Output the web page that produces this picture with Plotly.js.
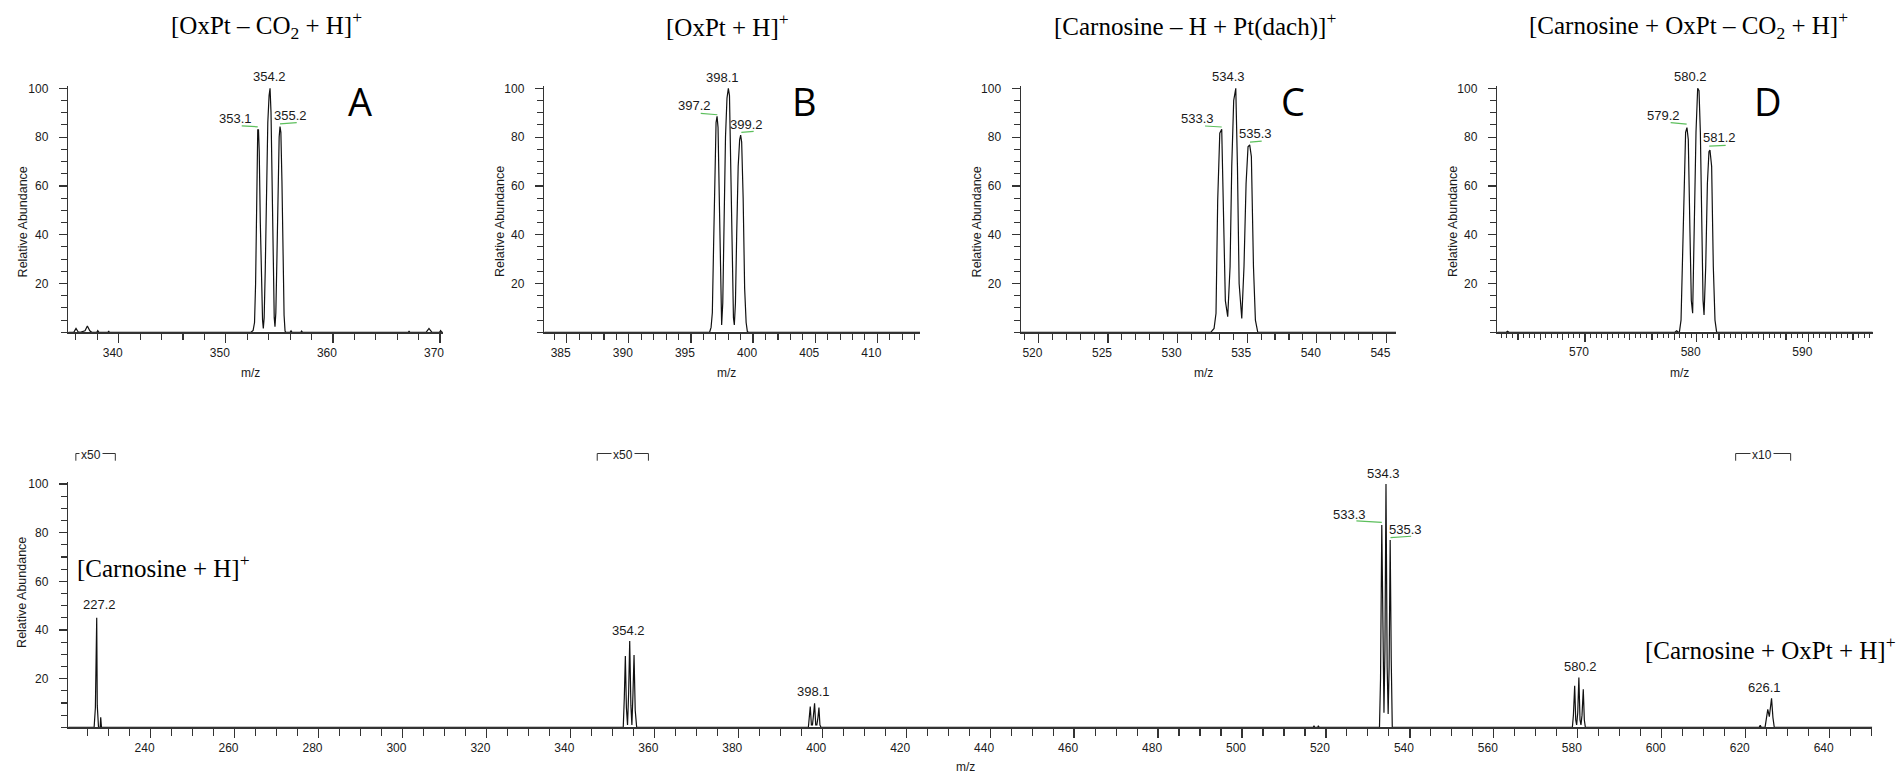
<!DOCTYPE html>
<html><head><meta charset="utf-8">
<script src="https://cdn.plot.ly/plotly-3.0.1.min.js"></script>
<style>html,body{margin:0;padding:0;background:#fff;}#chart{width:1903px;height:775px;}</style>
</head><body><div id="chart"></div>
<script>
// ---------------- DATA ----------------
// Panel A: [OxPt - CO2 + H]+  profile (m/z, relative abundance)
const aX = [335.30,335.80,336.01,336.20,336.39,336.85,337.07,337.30,337.48,337.95,338.04,338.15,339.00,339.06,339.12,
  352.35,352.55,352.68,352.78,352.88,352.95,352.98,353.05,353.12,353.22,353.33,353.43,353.50,353.58,353.68,353.80,353.92,
  354.04,354.13,354.22,354.32,354.42,354.52,354.59,354.67,354.77,354.88,354.98,355.06,355.14,355.24,355.34,355.44,355.53,
  355.60,356.00,356.09,356.18,357.00,357.08,357.16,367.05,367.11,367.18,368.70,368.97,369.25,369.95,370.06,370.17,370.31];
const aY = [0,0,1.6,0.2,0,0.6,2.6,0.6,0,0,0.7,0,0,0.5,0,
  0,0.8,4,20,55,78,83,83,74,45,18,5,1.6,6,25,62,86,
  97,100,90,60,25,6,2.3,8,30,65,80,84.3,82,62,28,7,0.5,
  0,0,0.6,0,0,0.5,0,0,0.5,0,0,1.6,0,0,0.7,0,0];
const aLabels = ['353.1','354.2','355.2'];

// Panel B: [OxPt + H]+
const bX = [383.20,396.50,396.62,396.72,396.82,396.93,397.02,397.10,397.18,397.28,397.38,397.47,397.56,397.66,397.78,397.90,
  398.01,398.10,398.20,398.32,398.42,398.49,398.58,398.68,398.80,398.92,399.00,399.08,399.20,399.32,399.44,399.54,399.62,413.43];
const bY = [0,0,2,8,35,72,86,88.5,84,55,20,3,12,45,80,96,
  100,97,70,25,6,3,12,40,68,79,80.8,78,55,18,4,0.3,0,0];
const bLabels = ['397.2','398.1','399.2'];

// Panel C: [Carnosine - H + Pt(dach)]+
const cX = [518.75,532.38,532.62,532.76,532.88,533.03,533.17,533.29,533.43,533.60,533.77,533.89,534.03,534.18,534.30,
  534.42,534.61,534.77,534.92,535.06,535.18,535.30,535.45,535.59,535.76,545.69];
const cY = [0,0,1.6,7.8,54,81.6,83.2,54,13,6.4,27,68,95,100,68,
  20,5.7,27,61,76,76.8,72,27,5,0,0];
const cLabels = ['533.3','534.3','535.3'];

// Panel D: [Carnosine + OxPt - CO2 + H]+
const dX = [562.15,562.95,563.07,563.19,578.05,578.21,578.37,578.45,578.60,578.72,578.81,578.92,579.01,579.13,579.25,
  579.40,579.52,579.64,579.79,579.94,580.09,580.21,580.33,580.45,580.57,580.66,580.81,580.96,581.10,581.19,581.34,
  581.49,581.64,581.79,595.76];
const dY = [0,0,0.4,0,0,0.6,0,0,5,30,54,75,82,83.9,79,
  41,13,7.8,41,82,100,99,82,41,13,7.1,27,61,74,74.7,68,
  27,5,0,0];
const dLabels = ['579.2','580.2','581.2'];

// Full spectrum (bottom)
const eX = [220.40,226.55,226.85,227.00,227.17,227.30,227.60,228.00,228.12,228.30,
  352.60,352.85,353.10,353.35,353.62,353.88,354.14,354.42,354.66,354.92,355.17,355.45,355.80,
  396.70,396.95,397.15,397.42,397.68,397.92,398.18,398.45,398.72,398.98,399.22,399.45,399.70,
  517.00,517.15,517.30,518.05,518.20,518.35,
  532.75,533.00,533.30,533.58,533.82,534.05,534.30,534.58,534.82,535.05,535.30,535.55,535.80,
  578.70,578.95,579.25,579.50,579.72,579.98,580.25,580.52,580.75,581.00,581.30,581.55,581.80,
  623.20,623.45,623.70,624.60,624.90,625.25,625.62,626.15,626.48,626.80,650.15];
const eY = [0,0,8,44,45,9,0,0,4.1,0,
  0,12,29.3,8,1,14,35.5,9,1,14,29.7,7,0,
  0,4,8.5,1,1,5,9.9,1,1,4,8.1,1,0,
  0,0.6,0,0,0.6,0,
  0,20,83.1,22,6,32,100,25,5.5,25,77,28,0,
  0,5,17.1,3,1,6,20.5,3,1,5,15.6,3,0,
  0,0.8,0,0,3,7.4,4.4,11.9,4,0,0];
const eLabels = ['227.2','354.2','398.1','533.3','534.3','535.3','580.2','626.1'];

// Magnification markers on the full spectrum
const magStart = [222.2, 346.4, 617.6];
const magEnd   = [231.6, 358.6, 630.7];
const magText  = ['x50', 'x50', 'x10'];

// Titles / species
const panelTitles = ['[OxPt – CO<sub>2</sub> + H]<sup>+</sup>', '[OxPt + H]<sup>+</sup>',
  '[Carnosine – H + Pt(dach)]<sup>+</sup>', '[Carnosine + OxPt – CO<sub>2</sub> + H]<sup>+</sup>'];
const panelLetters = ['A','B','C','D'];
const bottomSpecies = ['[Carnosine + H]<sup>+</sup>', '[Carnosine + OxPt + H]<sup>+</sup>'];

// Tick labels
const yTickVals = [20,40,60,80,100];
const yTickText = ['20','40','60','80','100'];

// ---------------- LAYOUT / STYLE ----------------
const W = 1903, H = 775;
const px = v => v / W, py = v => 1 - v / H;
const AX = '#333', TXT = '#1a1a1a';
const sans = 'Liberation Sans, Arial, sans-serif';
const serif = 'Liberation Serif, Times New Roman, serif';

// panel geometry in pixels: x from..to, y bottom..top
const geo = [
  {x:[68.3,443],    y:[332.3,86.35],  range:[335.29,370.28], xs:'x',  ys:'y'},
  {x:[544.3,920],   y:[332.3,86.35],  range:[383.20,413.43], xs:'x2', ys:'y2'},
  {x:[1021,1396],   y:[332.3,86.35],  range:[518.75,545.69], xs:'x3', ys:'y3'},
  {x:[1497.3,1872.7], y:[332.3,86.35], range:[562.15,595.76], xs:'x4', ys:'y4'},
  {x:[68.3,1872.3], y:[727.3,482.05], range:[220.4,650.15],  xs:'x5', ys:'y5'}
];
const tickCfg = [
  {dtick:10, minor:2, len:9, mlen:6}, {dtick:5, minor:1, len:9, mlen:6}, {dtick:5, minor:1, len:9, mlen:6},
  {dtick:10, minor:0.5, len:8, mlen:3.5}, {dtick:20, minor:5, len:9, mlen:7}
];
const series = [[aX,aY,aLabels],[bX,bY,bLabels],[cX,cY,cLabels],[dX,dY,dLabels],[eX,eY,eLabels]];

// label offsets (px) : [xshift, yshift]
const labelShift = [
  {'353.1':[-22.7,2], '354.2':[-1,2], '355.2':[10.3,2]},
  {'397.2':[-23,1.6], '398.1':[-6.3,1.3], '399.2':[6.3,1.3]},
  {'533.3':[-24.2,1.3], '534.3':[-7,2], '535.3':[6.1,2]},
  {'579.2':[-23.3,3], '580.2':[-7.3,2], '581.2':[10,3]},
  {'227.2':[2.7,4], '354.2':[-1.7,1.3], '398.1':[-1.4,2.6], '533.3':[-32,1.3], '534.3':[-2.5,1.4],
   '535.3':[15,1.3], '580.2':[1.7,1.6], '626.1':[-6.7,1.3]}
];
// green label tie lines (px offsets from peak top): [x0, y0, x1, y1]
const tieLine = [
  {'353.1':[-16,4,0,3], '355.2':[0,2.7,16.7,4]},
  {'397.2':[-16.3,3,0.3,1.6], '399.2':[0.7,2.7,13,3.7]},
  {'533.3':[-16.7,3.3,0,2.3], '535.3':[0.3,2.7,12,3.7]},
  {'579.2':[-16.3,5,-0.3,3.4], '581.2':[-0.7,4,15.7,4.7]},
  {'533.3':[-25.4,4.3,0,2.7], '535.3':[0.3,2.3,21,3.7]}
];

function peakTop(xs, ys, mz) {
  let best = -1, bi = -1;
  for (let i = 0; i < xs.length; i++) {
    if (Math.abs(xs[i] - mz) <= 0.35 && ys[i] > best) { best = ys[i]; bi = i; }
  }
  return [xs[bi], ys[bi]];
}

const layout = {
  width: W, height: H, margin: {l:0, r:0, t:0, b:0},
  paper_bgcolor: '#fff', plot_bgcolor: '#fff', showlegend: false,
  annotations: [], shapes: []
};
const traces = [];

geo.forEach((g, i) => {
  const xk = i === 0 ? 'xaxis' : 'xaxis' + (i+1);
  const yk = i === 0 ? 'yaxis' : 'yaxis' + (i+1);
  const tc = tickCfg[i];
  layout[xk] = {
    domain: [px(g.x[0]), px(g.x[1])], range: g.range, anchor: g.ys,
    showline: true, linecolor: AX, linewidth: 2, showgrid: false, zeroline: false,
    tickmode: 'linear', tick0: 0, dtick: tc.dtick,
    ticks: 'outside', ticklen: tc.len, tickwidth: 1.2, tickcolor: AX,
    tickfont: {family: sans, size: 12, color: TXT},
    ticklabelshift: -6, ticklabelstandoff: -1, fixedrange: true,
    minor: {ticks: 'outside', dtick: tc.minor, tick0: 0, ticklen: tc.mlen, tickwidth: 1.1, tickcolor: AX}
  };
  layout[yk] = {
    domain: [py(g.y[0]), py(g.y[1])], range: [0, 100.8], anchor: g.xs,
    showline: true, linecolor: AX, linewidth: 1.5, showgrid: false, zeroline: false,
    ticks: 'outside', ticklen: 8, tickwidth: 1.2, tickcolor: AX,
    tickmode: 'array', tickvals: yTickVals, ticktext: yTickText,
    tickfont: {family: sans, size: 12, color: TXT}, ticklabelstandoff: 8, fixedrange: true,
    minor: {ticks: 'outside', dtick: 5, tick0: 0, ticklen: 6, tickwidth: 1.1, tickcolor: AX}
  };

  const [xs, ys, labels] = series[i];
  traces.push({x: xs, y: ys, xaxis: g.xs, yaxis: g.ys, type: 'scatter', mode: 'lines',
    line: {color: '#111', width: 1.2, shape: 'linear'}, hoverinfo: 'skip'});

  labels.forEach(lab => {
    const [pxv, pyv] = peakTop(xs, ys, parseFloat(lab));
    const sh = labelShift[i][lab] || [0, 2];
    layout.annotations.push({x: pxv, y: pyv, xref: g.xs, yref: g.ys, text: lab, showarrow: false,
      xanchor: 'center', yanchor: 'bottom', xshift: sh[0], yshift: sh[1],
      font: {family: sans, size: 13, color: TXT}});
    const tl = tieLine[i][lab];
    if (tl) {
      layout.shapes.push({type: 'line', xref: g.xs, yref: g.ys, xsizemode: 'pixel', ysizemode: 'pixel',
        xanchor: pxv, yanchor: pyv, x0: tl[0], y0: tl[1], x1: tl[2], y1: tl[3],
        line: {color: '#5cbf5c', width: 1.2}});
    }
  });

  // axis titles
  const mzPos = [[250,372.7],[726.7,372.7],[1203.3,372.7],[1679.3,372.7],[965,767]][i];
  layout.annotations.push({x: px(mzPos[0]), y: py(mzPos[1]), xref: 'paper', yref: 'paper', text: 'm/z',
    showarrow: false, xanchor: 'center', yanchor: 'middle', font: {family: sans, size: 12, color: TXT}});
  const raPos = [[22.7,221.7],[499.3,221.7],[976.7,221.7],[1452.3,221.7],[22.7,592.2]][i];
  layout.annotations.push({x: px(raPos[0]), y: py(raPos[1]), xref: 'paper', yref: 'paper', text: 'Relative Abundance',
    showarrow: false, textangle: -90, xanchor: 'center', yanchor: 'middle', font: {family: sans, size: 12.5, color: TXT}});
});

// Panel D: extra medium ticks every 2 m/z on an overlaid, label-free axis
layout.xaxis6 = {
  domain: layout.xaxis4.domain, range: geo[3].range, overlaying: 'x4', anchor: 'y4', side: 'bottom',
  showline: false, showgrid: false, zeroline: false, showticklabels: false,
  tickmode: 'linear', tick0: 0, dtick: 2, ticks: 'outside', ticklen: 6.5, tickwidth: 1.1, tickcolor: AX, fixedrange: true
};
traces.push({x: [geo[3].range[0]], y: [0], xaxis: 'x6', yaxis: 'y4', type: 'scatter', mode: 'lines',
  line: {color: 'rgba(0,0,0,0)'}, hoverinfo: 'skip'});

// panel titles and letters
const titlePos = [266, 727, 1195, 1688];
const letterPos = [360, 804, 1292.5, 1768];
panelTitles.forEach((t, i) => {
  layout.annotations.push({x: px(titlePos[i]), y: py(25), xref: 'paper', yref: 'paper', text: t, showarrow: false,
    xanchor: 'center', yanchor: 'middle', font: {family: serif, size: 25, color: '#000'}});
  layout.annotations.push({x: px(letterPos[i]), y: py(101), xref: 'paper', yref: 'paper', text: panelLetters[i], showarrow: false,
    xanchor: 'center', yanchor: 'middle', font: {family: 'Open Sans, Noto Sans, sans-serif', size: 38, color: '#000'}});
});
layout.annotations.push({x: px(75), y: py(566), xref: 'paper', yref: 'paper', text: bottomSpecies[0], showarrow: false,
  xanchor: 'left', yanchor: 'middle', font: {family: serif, size: 25, color: '#000'}});
layout.annotations.push({x: px(1898), y: py(648), xref: 'paper', yref: 'paper', text: bottomSpecies[1], showarrow: false,
  xanchor: 'right', yanchor: 'middle', font: {family: serif, size: 25, color: '#000'}});

// magnification brackets on the full spectrum
const eRange = geo[4].range;
const fr = v => (v - eRange[0]) / (eRange[1] - eRange[0]);
const yb = 1.087, yt = 1.1164;
const magTextShift = [-5, 0, -1.5];
magStart.forEach((s, i) => {
  const e = magEnd[i];
  const base = {type: 'line', xref: 'x5 domain', yref: 'y5 domain', line: {color: AX, width: 1}};
  layout.shapes.push(Object.assign({}, base, {x0: fr(s), x1: fr(s), y0: yb, y1: yt}));
  layout.shapes.push(Object.assign({}, base, {x0: fr(s), x1: fr(e), y0: yt, y1: yt}));
  layout.shapes.push(Object.assign({}, base, {x0: fr(e), x1: fr(e), y0: yt, y1: yb}));
  layout.annotations.push({x: fr((s + e) / 2), y: yt, xref: 'x5 domain', yref: 'y5 domain', text: magText[i],
    showarrow: false, xanchor: 'center', yanchor: 'middle', xshift: magTextShift[i], yshift: -1,
    bgcolor: '#fff', borderpad: 1, font: {family: sans, size: 12, color: TXT}});
});

Plotly.newPlot('chart', traces, layout, {staticPlot: true, displayModeBar: false});
</script></body></html>
